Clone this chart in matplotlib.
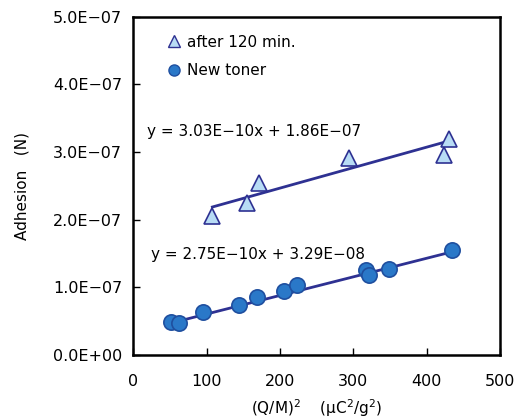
import numpy as np
import matplotlib
matplotlib.use("Agg")
import matplotlib.pyplot as plt
from matplotlib.lines import Line2D

plt.rcParams['font.family'] = ['DejaVu Sans', 'Noto Sans CJK JP']

# データ: 120分後
aged_x = [108, 155, 172, 294, 423, 430]
aged_y = [2.05e-7, 2.24e-7, 2.54e-7, 2.91e-7, 2.96e-7, 3.20e-7]
# データ: 新品トナー
new_x = [51, 63, 95, 144, 169, 206, 224, 318, 322, 349, 434]
new_y = [0.49e-7, 0.47e-7, 0.64e-7, 0.74e-7, 0.85e-7, 0.95e-7, 1.03e-7,
         1.25e-7, 1.18e-7, 1.27e-7, 1.55e-7]

aged_fit = (3.03e-10, 1.86e-7)
new_fit = (2.75e-10, 3.29e-8)
ytick_labels = ["0.0E+00", "1.0E\u221207", "2.0E\u221207", "3.0E\u221207",
                "4.0E\u221207", "5.0E\u221207"]

LINE = "#2e3192"
TRI_FILL = "#b8dcf5"
CIR_FILL = "#2a78c8"
CIR_EDGE = "#1f4f9f"

fig = plt.figure(figsize=(5.16, 4.2), dpi=100)
ax = fig.add_axes([0.258, 0.155, 0.711, 0.805])

# 近似直線
for xs, (a, b) in ((aged_x, aged_fit), (new_x, new_fit)):
    xx = np.array([min(xs), max(xs)])
    ax.plot(xx, a * xx + b, color=LINE, lw=2.0, zorder=2)

ax.plot(aged_x, aged_y, "^", ms=12, mfc=TRI_FILL, mec=LINE, mew=1.2,
        ls="none", zorder=3)
ax.plot(new_x, new_y, "o", ms=11, mfc=CIR_FILL, mec=CIR_EDGE, mew=1.2,
        ls="none", zorder=3)

ax.text(19, 3.31e-7, "y = 3.03E\u221210x + 1.86E\u221207", fontsize=11, va="center")
ax.text(25, 1.49e-7, "y = 2.75E\u221210x + 3.29E\u221208", fontsize=11, va="center")

handles = [
    Line2D([], [], marker="^", ms=9, mfc=TRI_FILL, mec=LINE, mew=1.0, ls="none"),
    Line2D([], [], marker="o", ms=8, mfc=CIR_FILL, mec=CIR_EDGE, mew=1.0, ls="none"),
]
ax.legend(handles, ["after 120 min.", "New toner"], loc="upper left",
          frameon=False, fontsize=11, handletextpad=0.3,
          borderaxespad=0.0, labelspacing=0.9, handlelength=1.0,
          bbox_to_anchor=(0.075, 0.965))

ax.set_xlim(0, 500)
ax.set_ylim(0, 5e-7)
ax.set_xticks([0, 100, 200, 300, 400, 500])
ax.set_yticks(np.arange(0, 5.01e-7, 1e-7))
ax.set_yticklabels(ytick_labels)
ax.tick_params(direction="in", length=5, width=1, labelsize=11.5, pad=14)
ax.tick_params(axis="y", pad=8)
for s in ax.spines.values():
    s.set_linewidth(1.8)

ax.set_ylabel("Adhesion   (N)", fontsize=11, labelpad=17)
ax.set_xlabel("(Q/M)$^2$    (μC$^2$/g$^2$)", fontsize=11, labelpad=6)

fig.savefig("out.png", dpi=100)
